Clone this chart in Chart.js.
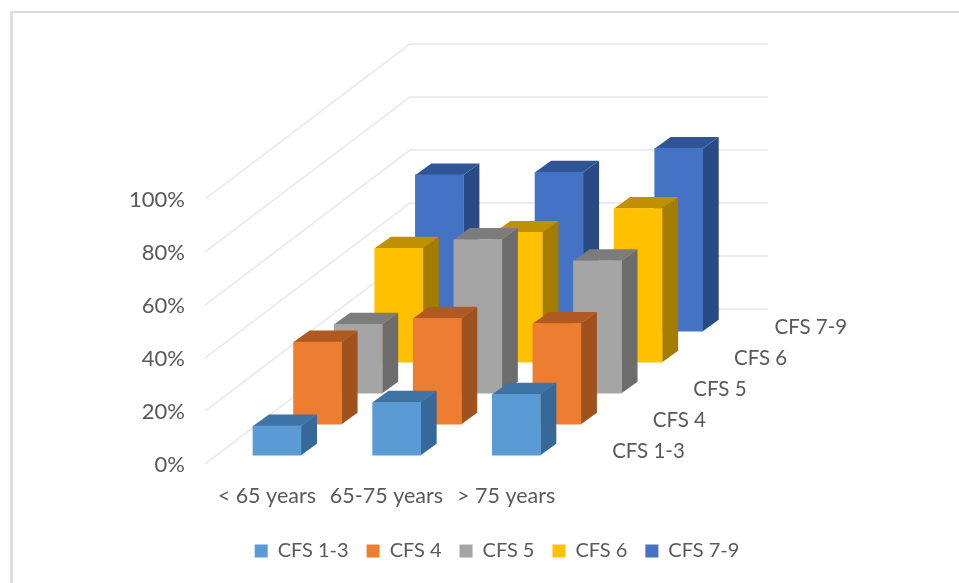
<!DOCTYPE html>
<html>
<head>
<meta charset="utf-8">
<title>CFS by age group</title>
<script src="https://cdn.jsdelivr.net/npm/chart.js@4"></script>
<style>
  html, body { margin: 0; background: #fff; overflow: hidden; }
  #frame { position: absolute; left: 10px; top: 11px; width: 960px; height: 600px; border-left: 3px solid #dfdfdf; border-top: 2px solid #dcdcdc; }
  #chart { position: absolute; left: 0; top: 0; }
</style>
</head>
<body>
<div id="frame"></div>
<canvas id="chart" width="959" height="583"></canvas>
<script>
const ageGroups = ["< 65 years", "65-75 years", "> 75 years"];
const seriesNames = ["CFS 1-3", "CFS 4", "CFS 5", "CFS 6", "CFS 7-9"];
const cfs13 = [11, 20, 23];
const cfs4 = [31, 40, 38];
const cfs5 = [26, 58, 50];
const cfs6 = [43, 49, 58];
const cfs79 = [59, 60, 69];
const yTicks = [0, 20, 40, 60, 80, 100];

const faceColors = ["#5b9bd5", "#ed7d31", "#a5a5a5", "#ffc000", "#4472c4"];
const topColors = ["#3d74a6", "#b05a22", "#7c7c7c", "#bf9000", "#2f5597"];
const sideColors = ["#37689a", "#a0521e", "#6c6c6c", "#a37c00", "#2a4a85"];
const textColor = "#595959";
const gridColor = "#e6e6e6";
const fontFamily = "Lato, 'Open Sans', sans-serif";

// one row of bars is this far back from the previous one
const rowDx = 40.6;
const rowDy = 31;
const barDepthX = 16;
const barDepthY = 11.5;
const legendCentre = 497;

function rowOffset(i) {
  return { x: (i + 0.25) * rowDx, y: -(i + 0.25) * rowDy - 1 };
}

// fake 3d: walls behind the bars, side and top faces on each bar
const depth3d = {
  id: "depth3d",
  beforeDatasetsDraw(chart) {
    const ctx = chart.ctx;
    const yScale = chart.scales.y;
    const area = chart.chartArea;
    const backX = seriesNames.length * rowDx;
    const backY = seriesNames.length * rowDy;
    ctx.save();
    ctx.strokeStyle = gridColor;
    ctx.lineWidth = 1.5;
    yTicks.forEach((tick) => {
      const y = yScale.getPixelForValue(tick);
      ctx.beginPath();
      ctx.moveTo(area.left - 2, y);
      ctx.lineTo(area.left + backX, y - backY);
      ctx.lineTo(area.right + backX - 1, y - backY);
      ctx.stroke();
    });
    ctx.restore();
  },
  beforeDatasetDraw(chart, args) {
    const ctx = chart.ctx;
    const off = rowOffset(args.index);
    ctx.save();
    ctx.translate(off.x, off.y);
    args.meta.data.forEach((bar) => {
      const p = bar.getProps(["x", "y", "base", "width"], true);
      const right = p.x + p.width / 2;
      const left = p.x - p.width / 2;
      ctx.fillStyle = sideColors[args.index];
      ctx.beginPath();
      ctx.moveTo(right, p.y);
      ctx.lineTo(right + barDepthX, p.y - barDepthY);
      ctx.lineTo(right + barDepthX, p.base - barDepthY);
      ctx.lineTo(right, p.base);
      ctx.closePath();
      ctx.fill();
      ctx.fillStyle = topColors[args.index];
      ctx.beginPath();
      ctx.moveTo(left, p.y);
      ctx.lineTo(left + barDepthX, p.y - barDepthY);
      ctx.lineTo(right + barDepthX, p.y - barDepthY);
      ctx.lineTo(right, p.y);
      ctx.closePath();
      ctx.fill();
    });
  },
  afterDatasetDraw(chart) {
    chart.ctx.restore();
  },
  afterDatasetsDraw(chart) {
    const ctx = chart.ctx;
    const area = chart.chartArea;
    ctx.save();
    ctx.fillStyle = textColor;
    ctx.font = "20.5px " + fontFamily;
    ctx.textAlign = "left";
    ctx.textBaseline = "middle";
    seriesNames.forEach((name, i) => {
      const off = rowOffset(i);
      ctx.fillText(name, area.right + off.x + 36, area.bottom + off.y - 4);
    });
    ctx.restore();
  },
  afterLayout(chart) {
    const shift = legendCentre - (chart.legend.left + chart.legend.right) / 2;
    chart.legend.left += shift;
    chart.legend.right += shift;
  },
};

const seriesValues = [cfs13, cfs4, cfs5, cfs6, cfs79];

new Chart(document.getElementById("chart"), {
  type: "bar",
  data: {
    labels: ageGroups,
    datasets: seriesNames.map((name, i) => ({
      label: name,
      data: seriesValues[i],
      backgroundColor: faceColors[i],
      borderWidth: 0,
      barThickness: 48,
      grouped: false,
      clip: false,
    })),
  },
  options: {
    responsive: false,
    animation: false,
    events: [],
    layout: { padding: { top: 199, right: 393, bottom: 12, left: 0 } },
    scales: {
      x: {
        grid: { display: false, drawTicks: false },
        border: { display: false },
        ticks: { color: textColor, font: { family: fontFamily, size: 21.5 }, padding: 19, maxRotation: 0, autoSkip: false },
        afterFit: (scale) => { scale.height = 59; },
      },
      y: {
        min: 0,
        max: 100,
        afterBuildTicks: (scale) => { scale.ticks = yTicks.map((value) => ({ value })); },
        grid: { display: false, drawTicks: false },
        border: { display: false },
        ticks: { color: textColor, font: { family: fontFamily, size: 22 }, padding: 22, labelOffset: 1, callback: (v) => v + "%" },
        afterFit: (scale) => { scale.width = 207; },
      },
    },
    plugins: {
      tooltip: { enabled: false },
      legend: {
        position: "bottom",
        labels: { color: textColor, font: { family: fontFamily, size: 20 }, boxWidth: 13, boxHeight: 13, padding: 18 },
      },
    },
  },
  plugins: [depth3d],
});
</script>
</body>
</html>
